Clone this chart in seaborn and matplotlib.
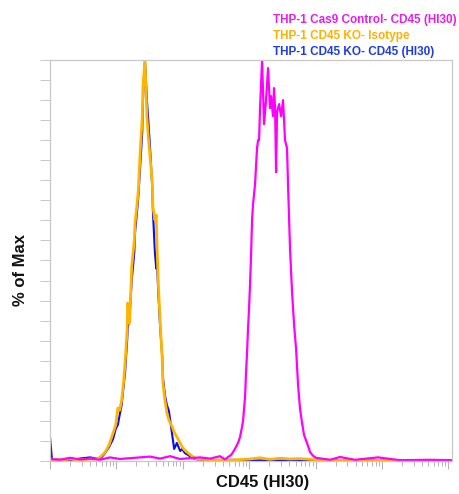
import matplotlib
matplotlib.use("Agg")
import matplotlib.pyplot as plt
import seaborn as sns
import numpy as np
import pandas as pd
from matplotlib.ticker import LogLocator, MultipleLocator, NullFormatter

# ---------------- data ----------------
SERIES_NAMES = ["THP-1 Cas9 Control- CD45 (HI30)",
                "THP-1 CD45 KO- Isotype",
                "THP-1 CD45 KO- CD45 (HI30)"]

MAGENTA_X = [1, 1.41, 2.0, 2.83, 4.0, 5.66, 8.0, 11.3, 16.0, 22.7, 32.1, 45.4, 64.2, 90.7,
             128, 182, 257, 363, 432, 480, 532, 570, 632, 678, 727, 779, 807, 865, 895, 927,
             959, 993, 1028, 1064, 1102, 1141, 1223, 1310, 1358, 1406, 1455, 1507, 1560,
             1671, 1790, 1919, 2056, 2128, 2280, 2361, 2449, 2535, 2624, 2812, 3013, 3228,
             3459, 3707, 3837, 4112, 4416, 4732, 5070, 5433, 5821, 6237, 6683, 7413, 8241,
             9141, 10140, 16480, 23280, 39190, 87100, 186600, 528000, 1130000]
MAGENTA_Y = [0.5, 0.3, 0.8, 0.4, 0.6, 0.3, 0.9, 0.5, 0.7, 0.9, 1.1, 0.6, 1.2, 0.5,
             0.7, 0.9, 0.6, 1.2, 0.4, 1.0, 1.5, 2.2, 3.5, 4.5, 6.0, 8.5, 10.0, 16.0, 22.0, 27.0,
             33.0, 38.0, 44.0, 51.0, 60.0, 64.0, 69.0, 78.0, 80.0, 80.0, 88.0, 94.0, 100.0,
             84.0, 90.0, 98.0, 88.0, 91.0, 86.0, 93.0, 88.0, 72.0, 87.0, 89.0, 86.0, 90.0,
             80.0, 78.0, 69.0, 53.0, 42.0, 34.0, 28.0, 19.0, 13.0, 9.5, 6.5, 4.5, 2.2,
             1.3, 0.8, 0.3, 1.0, 0.3, 0.9, 0.2, 0.3, 0.2]

ORANGE_X = [1, 1.41, 2.0, 2.82, 3.98, 5.13, 5.89, 6.76, 7.76, 8.91, 9.77, 10.5, 11.2, 12.0,
            12.9, 13.5, 14.5, 14.8, 15.8, 17.0, 18.6, 19.1, 20.4, 21.4, 22.9, 24.5, 25.1,
            26.9, 28.8, 30.2, 32.4, 34.7, 35.5, 38.0, 39.8, 40.7, 42.7, 45.7, 49.0, 50.1,
            53.7, 57.5, 61.7, 69.2, 74.1, 81.3, 91.2, 97.7, 107, 120, 138, 162, 257, 513,
            1028, 1455, 2056, 2884, 4112, 5821, 8241, 11700, 23300, 1130000]
ORANGE_Y = [0.5, 0.2, 0.5, 0.2, 0.5, 0.5, 1.2, 2.2, 4.0, 7.0, 9.0, 13.2, 12.7, 15.2,
            20.2, 24.4, 32.7, 39.4, 34.4, 48.4, 55.1, 59.4, 63.8, 67.6, 77.6, 85.8, 93.3,
            100.0, 85.8, 80.8, 75.1, 69.3, 63.3, 60.1, 61.3, 54.4, 44.4, 34.4, 25.2, 19.5,
            15.2, 12.0, 10.2, 8.5, 7.2, 6.0, 4.5, 3.5, 2.7, 2.0, 1.2, 0.5, 0.3, 0.2,
            0.5, 0.8, 0.4, 0.7, 0.5, 0.6, 0.4, 0.3, 0.1, 0.1]

BLUE_X = [1, 1.07, 1.41, 2.0, 2.82, 3.98, 5.13, 5.89, 6.76, 7.76, 8.91, 9.77, 10.5, 11.2,
          12.0, 12.9, 13.5, 14.5, 14.8, 15.8, 17.0, 18.6, 19.1, 20.4, 21.4, 22.9, 24.5,
          25.1, 26.9, 28.8, 30.2, 32.4, 34.7, 35.5, 38.0, 39.8, 40.7, 42.7, 45.7, 49.0,
          50.1, 53.7, 57.5, 61.7, 69.2, 74.1, 81.3, 91.2, 97.7, 107, 120, 138, 162, 257,
          513, 1028, 2056, 5821, 23300, 1130000]
BLUE_Y = [6.0, 0.4, 0.3, 0.2, 0.6, 0.9, 0.6, 0.8, 2.0, 3.5, 5.5, 8.0, 9.0, 11.5,
          14.0, 19.0, 22.0, 30.0, 33.0, 36.0, 45.0, 52.0, 57.0, 62.0, 66.0, 74.0, 82.0,
          90.0, 100.0, 90.0, 85.0, 77.0, 68.0, 62.0, 52.0, 48.0, 50.0, 42.0, 33.0, 26.0,
          21.0, 16.5, 14.0, 12.5, 6.5, 3.0, 4.5, 2.5, 3.0, 2.0, 1.5, 0.8, 0.4, 0.2,
          0.3, 0.2, 0.1, 0.2, 0.1, 0.1]

COLORS = {"magenta": "#FF00FF", "orange": "#FFB400", "blue": "#0A0AF5"}
TEXT_COLORS = ["#E61EE6", "#FFB000", "#1E3CE6"]

X_LABEL = "CD45 (HI30)"
Y_LABEL = "% of Max"

# ---------------- plot ----------------
sns.set_style("white")
plt.rcParams["font.family"] = ["Liberation Sans", "DejaVu Sans"]

fig = plt.figure(figsize=(4.59, 4.94), dpi=100)
ax = fig.add_axes([50 / 459, 1 - 461 / 494, 402 / 459, 401 / 494])

sns.lineplot(x=BLUE_X, y=BLUE_Y, ax=ax, color=COLORS["blue"], linewidth=1.5,
             estimator=None, sort=False)
sns.lineplot(x=ORANGE_X, y=ORANGE_Y, ax=ax, color=COLORS["orange"], linewidth=2.0,
             estimator=None, sort=False)
sns.lineplot(x=MAGENTA_X, y=MAGENTA_Y, ax=ax, color=COLORS["magenta"], linewidth=1.6,
             estimator=None, sort=False)

ax.set_xscale("log")
ax.set_xlim(1, 1.13e6)
ax.set_ylim(0, 100)

spine_col = "#C8C8C8"
for s in ax.spines.values():
    s.set_color(spine_col)
    s.set_linewidth(0.9)

ax.xaxis.set_major_locator(LogLocator(base=10, numticks=10))
ax.xaxis.set_minor_locator(LogLocator(base=10, subs=np.arange(2, 10), numticks=20))
ax.xaxis.set_major_formatter(NullFormatter())
ax.xaxis.set_minor_formatter(NullFormatter())
ax.yaxis.set_major_locator(MultipleLocator(5))
ax.yaxis.set_major_formatter(NullFormatter())

ax.tick_params(axis="x", which="major", direction="out", length=6, width=0.8,
               color="#B4B4B4", bottom=True)
ax.tick_params(axis="x", which="minor", direction="out", length=3.5, width=0.7,
               color="#B4B4B4", bottom=True)
ax.tick_params(axis="y", which="major", direction="out", length=7, width=0.7,
               color="#C8C8C8", left=True)

ax.set_xlabel(X_LABEL, fontsize=12, fontweight="bold", color="#111111")
ax.set_ylabel(Y_LABEL, fontsize=12, fontweight="bold", color="#111111")
ax.xaxis.set_label_coords((263 - 50) / 402, -0.035)
ax.yaxis.set_label_coords(-0.055, (461 - 270) / 401)

for i, (name, col) in enumerate(zip(SERIES_NAMES, TEXT_COLORS)):
    fig.text(273 / 459, 1 - (20 + 16 * i) / 494, name, color=col, fontsize=8.5,
             fontweight="bold", ha="left", va="center")

fig.savefig("out.png", dpi=100)
